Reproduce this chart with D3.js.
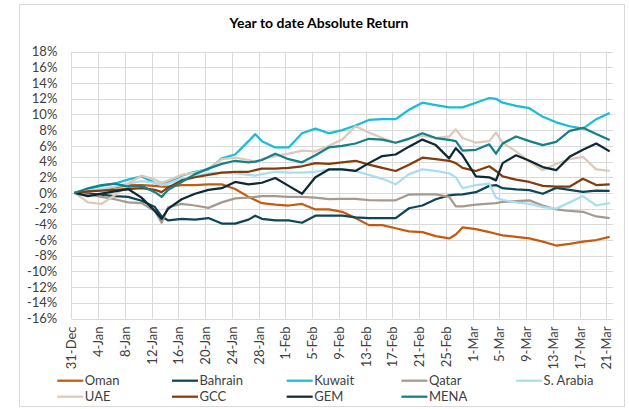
<!DOCTYPE html>
<html>
<head>
<meta charset="utf-8">
<script src="https://cdn.jsdelivr.net/npm/d3@7"></script>
<style>
body { margin: 0; background: #fff; }
text { font-family: Lato, "Open Sans", sans-serif; fill: #404040; }
</style>
</head>
<body>
<svg id="chart" width="629" height="409"></svg>
<script>
// days after 31-Dec
const days = [0,2,4,6,8,10,12,13,14,16,18,20,22,24,26,27,28,30,32,34,36,38,40,42,44,46,48,50,52,54,56,57,58,60,62,63,64,66,68,70,72,74,76,78,80];

const oman     = [0,0.2,0.4,0.7,1.0,1.0,0.9,0.8,0.8,1.0,1.0,1.1,1.1,0.5,-0.5,-0.9,-1.3,-1.5,-1.6,-1.4,-2.1,-2.1,-2.4,-3.2,-4.1,-4.1,-4.5,-4.9,-5.0,-5.5,-5.8,-5.3,-4.4,-4.6,-5.0,-5.2,-5.4,-5.6,-5.8,-6.2,-6.7,-6.5,-6.2,-6.0,-5.6];
const bahrain  = [0,-0.1,-0.2,-0.4,-0.5,-1.0,-1.8,-3.0,-3.5,-3.3,-3.4,-3.2,-3.9,-3.9,-3.4,-2.9,-3.3,-3.5,-3.5,-3.8,-2.9,-2.9,-2.9,-3.1,-3.2,-3.2,-3.2,-1.95,-1.6,-0.8,-0.3,-0.2,-0.17,0.1,0.9,1.0,0.6,0.45,0.35,-0.1,0.65,0.4,0.15,0.3,0.25];
const kuwait   = [0,0.5,0.9,1.2,1.7,2.1,1.3,1.0,1.4,2.2,2.7,3.0,4.4,4.9,6.6,7.5,6.6,5.8,5.8,7.6,8.2,7.6,8.0,8.6,9.3,9.4,9.4,10.6,11.5,11.2,10.9,10.9,10.9,11.5,12.1,12.0,11.5,11.1,10.8,9.7,9.0,8.5,8.2,9.4,10.2];
const qatar    = [0,-0.2,-0.5,-0.8,-1.2,-1.3,-2.3,-3.8,-1.8,-1.4,-1.6,-1.9,-1.2,-0.7,-0.6,-0.5,-0.4,-0.4,-0.5,-0.5,-0.6,-0.8,-0.75,-0.75,-0.9,-0.94,-0.94,-0.2,-0.17,-0.17,-0.5,-1.7,-1.7,-1.5,-1.35,-1.3,-1.15,-1.05,-0.95,-1.6,-2.1,-2.3,-2.4,-3.0,-3.2];
const saudi    = [0,0.3,0.5,0.8,1.2,1.5,1.3,1.0,1.2,1.8,2.1,2.5,2.6,2.5,2.3,2.2,2.4,2.7,2.6,2.6,2.7,3.0,3.0,2.8,2.3,1.8,1.1,2.4,3.0,2.8,2.5,2.0,0.6,1.0,1.2,-0.6,-0.9,-1.2,-1.4,-1.8,-2.0,-1.2,-0.4,-1.6,-1.3];
const uae      = [0,-1.2,-1.4,-0.3,1.2,2.2,1.7,1.3,1.6,2.3,2.6,3.1,4.3,4.5,4.2,4.0,4.3,4.7,5.0,5.4,5.3,6.0,6.8,8.5,7.7,7.0,6.4,7.0,7.3,7.0,7.2,8.1,7.0,6.4,6.6,7.7,6.4,5.3,4.0,2.9,3.7,4.3,4.6,3.0,2.8];
const gcc      = [0,0.2,0.3,0.4,0.5,0.6,0.4,0.1,0.7,1.6,2.0,2.3,2.6,2.7,2.7,2.9,3.1,3.1,3.2,3.4,3.8,3.7,3.9,4.1,3.6,3.2,2.8,3.6,4.5,4.3,4.1,3.8,3.2,2.8,3.4,2.8,2.1,1.7,1.4,0.9,0.8,0.8,1.8,1.0,1.1];
const gem      = [0,-0.4,-0.1,0.2,0.5,-0.6,-2.3,-3.3,-2.0,-0.8,-0.1,0.4,0.6,1.4,1.1,1.2,1.3,1.9,0.9,-0.1,2.0,3.0,3.0,2.8,3.8,4.7,4.9,5.9,6.8,6.1,4.4,5.7,4.8,2.1,2.0,1.6,3.8,4.8,4.1,3.3,2.9,4.6,5.5,6.3,5.3];
const mena     = [0,0.6,1.0,1.2,0.8,0.9,0.1,-0.5,0.4,1.4,2.4,3.1,3.7,4.1,3.9,4.0,4.2,5.0,4.3,3.9,4.8,5.8,6.0,6.3,6.9,6.8,6.4,6.9,7.6,7.0,6.75,6.6,5.4,5.5,6.2,5.0,6.3,7.2,6.6,6.1,6.5,7.9,8.3,7.5,6.75];

const seriesNames = ["Oman","Bahrain","Kuwait","Qatar","S. Arabia","UAE","GCC","GEM","MENA"];
const seriesColors = ["#C55A11","#0E4558","#1ABCD6","#A69A8D","#A9DEF0","#DDC9B9","#843C0C","#0C2A36","#13808A"];
const seriesValues = [oman,bahrain,kuwait,qatar,saudi,uae,gcc,gem,mena];

const xTickDays = d3.range(0, 81, 4);
const xTickLabels = ["31-Dec","4-Jan","8-Jan","12-Jan","16-Jan","20-Jan","24-Jan","28-Jan","1-Feb","5-Feb","9-Feb","13-Feb","17-Feb","21-Feb","25-Feb","1-Mar","5-Mar","9-Mar","13-Mar","17-Mar","21-Mar"];
const yTicks = d3.range(-16, 19, 2);

let svg = d3.select("#chart");

// chart frame
svg.append("rect")
    .attr("x", 19.5).attr("y", 4.5)
    .attr("width", 605).attr("height", 402)
    .attr("fill", "#fff")
    .attr("stroke", "#D9D9D9");

svg.append("text")
    .attr("x", 319).attr("y", 28)
    .attr("text-anchor", "middle")
    .style("font-weight", "bold")
    .style("font-size", "14px")
    .style("fill", "#000")
    .text("Year to date Absolute Return");

let x = d3.scaleLinear().domain([0, 81]).range([71.3, 613]);
let y = d3.scaleLinear().domain([-16, 18]).range([318.5, 51.7]);

// gridlines
let grid = svg.append("g");
grid.selectAll("line.h")
    .data(yTicks)
    .enter().append("line")
    .attr("x1", x(0)).attr("x2", x(81))
    .attr("y1", d => Math.round(y(d)) + 0.5)
    .attr("y2", d => Math.round(y(d)) + 0.5)
    .attr("stroke", "#D9D9D9");
grid.selectAll("line.v")
    .data(xTickDays)
    .enter().append("line")
    .attr("y1", y(18)).attr("y2", y(-16))
    .attr("x1", d => Math.round(x(d)) + 0.5)
    .attr("x2", d => Math.round(x(d)) + 0.5)
    .attr("stroke", "#D9D9D9");

// y axis
let yAxis = d3.axisLeft(y)
    .tickValues(yTicks)
    .tickSize(0)
    .tickPadding(14)
    .tickFormat(d => d + "%");
svg.append("g")
    .attr("transform", `translate(${x(0)},0)`)
    .call(yAxis)
    .call(g => g.select(".domain").remove())
    .selectAll("text")
    .style("font-size", "13px")
    .style("font-family", "Lato");

// x axis
let xAxis = d3.axisBottom(x)
    .tickValues(xTickDays)
    .tickSize(0)
    .tickFormat((d, i) => xTickLabels[i]);
let xg = svg.append("g")
    .attr("transform", `translate(0,${y(-16)})`)
    .call(xAxis)
    .call(g => g.select(".domain").remove());
xg.selectAll("text")
    .style("font-size", "13px")
    .style("font-family", "Lato")
    .attr("text-anchor", "end")
    .attr("dy", "0.35em")
    .attr("transform", "translate(0,8) rotate(-90)")
    .attr("x", 0).attr("y", 0);

// lines
let line = d3.line()
    .x((d, i) => x(days[i] + 0.5))
    .y(d => y(d));

svg.append("g").selectAll("path")
    .data(seriesValues)
    .enter().append("path")
    .attr("d", d => line(d))
    .attr("fill", "none")
    .attr("stroke", (d, i) => seriesColors[i])
    .attr("stroke-width", 2.25)
    .attr("stroke-linejoin", "round");

// legend
let legend = svg.append("g");
let items = legend.selectAll("g")
    .data(seriesNames)
    .enter().append("g")
    .attr("transform", (d, i) => `translate(${57.3 + (i % 5) * 114.7},${i < 5 ? 380.7 : 396.7})`);
items.append("line")
    .attr("x1", 0).attr("x2", 26)
    .attr("stroke", (d, i) => seriesColors[i])
    .attr("stroke-width", 2.25);
items.append("text")
    .attr("x", 27.5)
    .attr("dy", "0.35em")
    .style("font-size", "13px")
    .text(d => d);
</script>
</body>
</html>
